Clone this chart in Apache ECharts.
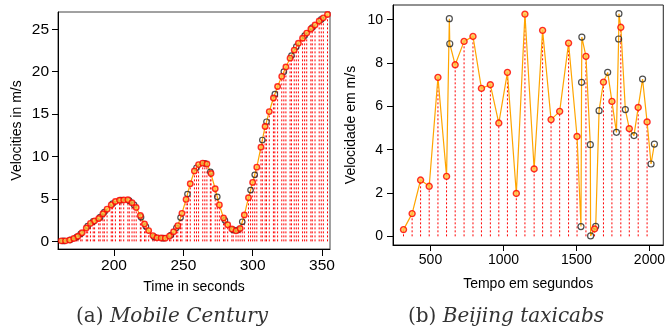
<!DOCTYPE html>
<html>
<head>
<meta charset="utf-8">
<script src="https://cdn.jsdelivr.net/npm/echarts/dist/echarts.min.js"></script>
<style>
html,body{margin:0;padding:0;background:#fff;}
#chart{width:668px;height:333px;}
</style>
</head>
<body>
<div id="chart"></div>
<script>
// ---- (a) Mobile Century ----
const leftRedT = [162,165,168,171,174,177,180,183,186,189,192,195,198,201,204,207,210,213,216,219,222,225,228,231,234,237,240,243,246,249,252,255,258,261,264,267,270,273,276,279,282,285,288,291,294,297,300,303,306,309,312,315,318,321,324,327,330,333,336,339,342,345,348,351,354];
const leftRedV = [0.06,0.06,0.15,0.33,0.6,1.02,1.58,2.12,2.42,2.7,3.25,3.8,4.3,4.7,4.85,4.88,4.9,4.55,4.0,3.05,2.05,1.27,0.68,0.42,0.39,0.38,0.62,1.13,1.85,3.3,4.95,6.8,8.3,9.05,9.22,9.12,8.0,6.2,4.3,2.75,1.95,1.45,1.24,1.52,3.1,5.15,6.95,8.75,11.1,13.55,15.3,16.9,18.25,19.45,20.55,21.6,22.55,23.35,23.95,24.55,25.05,25.5,25.98,26.35,26.75];
const leftBlackT = [163.5,168.5,173,176,181,185,190,193,199,205,211,214.5,219.5,223,229,235.5,241,245,248,253,259.5,265.5,269.5,274.5,280,286,289.5,292.5,298.5,301.5,307,310,316,322.5,328,331.5,337.5,343,349.5];
const leftBlackV = [0.05,0.18,0.5,0.9,1.8,2.35,2.85,3.45,4.45,4.87,4.8,4.3,2.85,1.75,0.52,0.38,0.75,1.6,2.8,5.57,8.68,9.2,8.2,5.25,2.48,1.35,1.36,2.31,6.05,7.85,11.95,14.1,17.35,20.0,21.9,22.95,24.25,25.2,26.17];
const leftXTicks = [200,250,300,350];
const leftYTicks = [0,5,10,15,20,25];

// ---- (b) Beijing taxicabs ----
const rightRedT = [315,374,432,491,551,610,669,730,791,849,910,968,1027,1088,1147,1210,1268,1326,1385,1446,1504,1565,1624,1685,1743,1804,1862,1923,1984];
const rightRedV = [0.31,1.05,2.6,2.31,7.34,2.77,7.92,9.0,9.23,6.83,7.0,5.23,7.57,1.98,10.26,3.11,9.51,5.39,5.77,8.92,4.61,8.31,0.34,7.12,6.23,9.65,4.97,5.95,5.28];
const rightBlackT = [629,632,1531,1535,1537,1595,1597,1632,1655,1714,1774,1789,1791,1835,1894,1953,2011,2034];
const rightBlackV = [10.05,8.89,0.45,7.11,9.2,4.23,0.02,0.46,5.8,7.57,4.8,9.11,10.28,5.85,4.65,7.26,3.34,4.26];
const rightXTicks = [500,1000,1500,2000];
const rightYTicks = [0,2,4,6,8,10];

function pairs(T, V){ return T.map((t,i)=>[t, V[i]]); }
function merged(T1,V1,T2,V2){ return pairs(T1,V1).concat(pairs(T2,V2)).sort((a,b)=>a[0]-b[0]); }
// vertical drop segments from 0 to each value, separated by empty items
function drops(T, V){
  const out = [];
  T.forEach((t,i)=>{ out.push([t,0]); out.push([t,V[i]]); out.push([t,'-']); });
  return out;
}

const sans = 'Liberation Sans, Arial, Helvetica, sans-serif';
const nameFont = {color:'#000', fontFamily: sans, fontSize: 14};

function dropSeries(xi, yi, data){
  return {type:'line', xAxisIndex:xi, yAxisIndex:yi, z:1, silent:true, symbol:'none',
    connectNulls:false, data:data, color:'#ff0000',
    lineStyle:{color:'#ff0000', width:1, type:[2,2]}};
}

function axisCfg(gi, min, max, ticks, name, gap, tickLen, margin, fs){
  return {gridIndex:gi, type:'value', min:min, max:max,
    axisLine:{show:true, onZero:false, lineStyle:{color:'#000', width:1}},
    axisTick:{show:true, customValues:ticks, length:tickLen, lineStyle:{color:'#000'}},
    axisLabel:{show:true, customValues:ticks, margin:margin, formatter:(v)=>String(v),
      color:'#000', fontFamily:sans, fontSize:fs},
    splitLine:{show:false},
    name:name, nameLocation:'middle', nameGap:gap, nameTextStyle:nameFont};
}

const capRich = {
  a:{fontFamily:'DejaVu Serif', fontSize:20, fill:'#333', color:'#333'},
  b:{fontFamily:'DejaVu Serif', fontStyle:'italic', fontSize:20, fill:'#333', color:'#333'}
};

const chart = echarts.init(document.getElementById('chart'), null, {renderer:'canvas'});
chart.setOption({
  animation:false,
  grid:[
    {left:58, top:12, width:272, height:237, show:true, borderColor:'#444', borderWidth:1},
    {left:393, top:5, width:274, height:240, show:true, borderColor:'#222', borderWidth:1}
  ],
  xAxis:[
    axisCfg(0, 159.6, 355.8, leftXTicks, 'Time in seconds', 31, 7, 9, 15.5),
    axisCfg(1, 243, 2095, rightXTicks, 'Tempo em segundos', 32, 6, 8, 14)
  ],
  yAxis:[
    axisCfg(0, -0.9, 27.04, leftYTicks, 'Velocities in m/s', 34, 6, 9, 15.5),
    axisCfg(1, -0.4, 10.68, rightYTicks, 'Velocidade em m/s', 35, 6, 10, 14)
  ],
  graphic:[
    {type:'text', x:172, y:317, style:{
      text:'{a|(a) }{b|Mobile Century}', align:'center', verticalAlign:'middle', rich:capRich
    }},
    {type:'text', x:506, y:317, style:{
      text:'{a|(b) }{b|Beijing taxicabs}', align:'center', verticalAlign:'middle', rich:capRich
    }}
  ],
  series:[
    dropSeries(0,0,drops(leftRedT,leftRedV)),
    dropSeries(0,0,drops(leftBlackT,leftBlackV)),
    {type:'line', xAxisIndex:0, yAxisIndex:0, z:2, silent:true, symbol:'none',
      data:merged(leftRedT,leftRedV,leftBlackT,leftBlackV),
      lineStyle:{color:'#FFA500', width:1.2}},
    {type:'scatter', xAxisIndex:0, yAxisIndex:0, z:3, silent:true, symbol:'circle', symbolSize:5.5,
      data:pairs(leftBlackT,leftBlackV),
      itemStyle:{color:'rgba(255,255,255,0)', borderColor:'#222', borderWidth:1.2}},
    {type:'scatter', xAxisIndex:0, yAxisIndex:0, z:4, silent:true, symbol:'circle', symbolSize:5.5,
      data:pairs(leftRedT,leftRedV),
      itemStyle:{color:'#FFC040', borderColor:'#FF0000', borderWidth:1.4}},

    dropSeries(1,1,drops(rightRedT,rightRedV)),
    {type:'line', xAxisIndex:1, yAxisIndex:1, z:2, silent:true, symbol:'none',
      data:merged(rightRedT,rightRedV,rightBlackT,rightBlackV),
      lineStyle:{color:'#FFA500', width:1.2}},
    {type:'scatter', xAxisIndex:1, yAxisIndex:1, z:3, silent:true, symbol:'circle', symbolSize:6,
      data:pairs(rightBlackT,rightBlackV),
      itemStyle:{color:'rgba(255,255,255,0)', borderColor:'#222', borderWidth:1.2}},
    {type:'scatter', xAxisIndex:1, yAxisIndex:1, z:4, silent:true, symbol:'circle', symbolSize:6,
      data:pairs(rightRedT,rightRedV),
      itemStyle:{color:'#FFC040', borderColor:'#FF0000', borderWidth:1.4}}
  ]
});
</script>
</body>
</html>
